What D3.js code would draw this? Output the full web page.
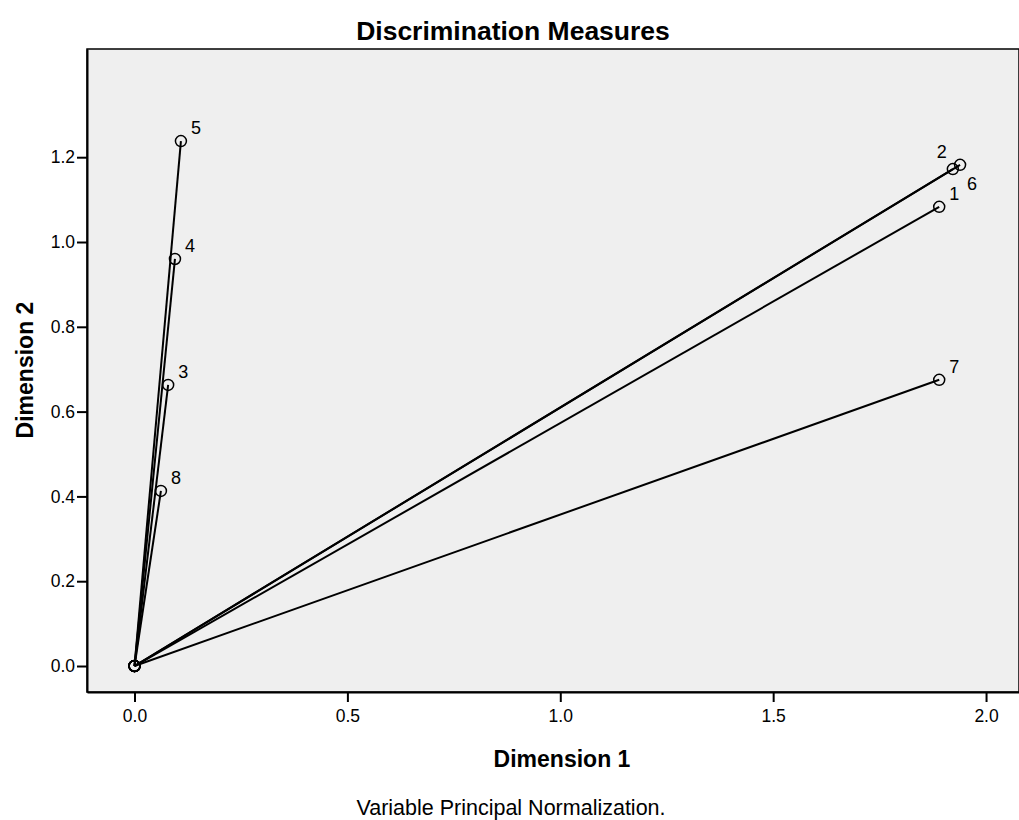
<!DOCTYPE html>
<html>
<head>
<meta charset="utf-8">
<script src="https://cdn.jsdelivr.net/npm/d3@7"></script>
<style>
  body { margin: 0; background: #fff; }
  text { font-family: "Liberation Sans", Arial, sans-serif; }
</style>
</head>
<body>
<div id="chart"></div>
<script>
// Discrimination measures (variables 1..8)
const varLabels = ["1", "2", "3", "4", "5", "6", "7", "8"];
const dim1 = [1.890, 1.922, 0.079, 0.095, 0.109, 1.939, 1.890, 0.062];
const dim2 = [1.083, 1.172, 0.663, 0.960, 1.238, 1.182, 0.675, 0.413];
const xTicks = [0.0, 0.5, 1.0, 1.5, 2.0];
const yTicks = [0.0, 0.2, 0.4, 0.6, 0.8, 1.0, 1.2];

const width = 1019, height = 820;
const plot = { left: 87, right: 1019, top: 49, bottom: 692 };

const svg = d3.select("#chart").append("svg")
  .attr("width", width)
  .attr("height", height);

const x = d3.scaleLinear().domain([-0.1116, 2.0774]).range([plot.left, plot.right]);
const y = d3.scaleLinear().domain([-0.0613, 1.4552]).range([plot.bottom, plot.top]);

// plot background
svg.append("rect")
  .attr("x", plot.left).attr("y", plot.top)
  .attr("width", plot.right - plot.left).attr("height", plot.bottom - plot.top)
  .attr("fill", "#efefef")
  .attr("stroke", "#000").attr("stroke-width", 1.5);

// axes
const xAxis = svg.append("g")
  .attr("transform", `translate(0,${plot.bottom})`)
  .call(d3.axisBottom(x).tickValues(xTicks).tickFormat(d3.format(".1f")).tickSize(10).tickSizeOuter(0));
const yAxis = svg.append("g")
  .attr("transform", `translate(${plot.left},0)`)
  .call(d3.axisLeft(y).tickValues(yTicks).tickFormat(d3.format(".1f")).tickSize(10).tickSizeOuter(0));

[xAxis, yAxis].forEach(g => {
  g.select(".domain").attr("stroke", "#000").attr("stroke-width", 2);
  g.selectAll(".tick line").attr("stroke", "#000").attr("stroke-width", 2);
  g.selectAll(".tick text").attr("fill", "#000").style("font-size", "17.5px");
});
xAxis.selectAll(".tick text").attr("y", 30).attr("dy", 0);
yAxis.selectAll(".tick text").attr("x", -12);

// points data
const pts = varLabels.map((lab, i) => ({ lab, d1: dim1[i], d2: dim2[i] }));

// vectors from origin
svg.append("g").selectAll("line")
  .data(pts)
  .enter().append("line")
  .attr("x1", x(0)).attr("y1", y(0))
  .attr("x2", d => x(d.d1)).attr("y2", d => y(d.d2))
  .attr("stroke", "#000")
  .attr("stroke-width", 2);

// origin markers
svg.append("g").selectAll("circle")
  .data(pts)
  .enter().append("circle")
  .attr("cx", x(0)).attr("cy", y(0)).attr("r", 5.5)
  .attr("fill", "none").attr("stroke", "#000").attr("stroke-width", 1.5);

// end markers
svg.append("g").selectAll("circle")
  .data(pts)
  .enter().append("circle")
  .attr("cx", d => x(d.d1)).attr("cy", d => y(d.d2)).attr("r", 5.5)
  .attr("fill", "none").attr("stroke", "#000").attr("stroke-width", 1.5);

// point labels
const labelOffset = { "2": [-16, -11], "6": [7, 25] };
svg.append("g").selectAll("text")
  .data(pts)
  .enter().append("text")
  .attr("x", d => x(d.d1) + (labelOffset[d.lab] ? labelOffset[d.lab][0] : 10))
  .attr("y", d => y(d.d2) + (labelOffset[d.lab] ? labelOffset[d.lab][1] : -7))
  .style("font-size", "18px")
  .text(d => d.lab);

// titles
svg.append("text")
  .attr("x", 513).attr("y", 40)
  .attr("text-anchor", "middle")
  .style("font-size", "26.5px").style("font-weight", "bold")
  .text("Discrimination Measures");

svg.append("text")
  .attr("x", 562).attr("y", 767)
  .attr("text-anchor", "middle")
  .style("font-size", "23px").style("font-weight", "bold")
  .text("Dimension 1");

svg.append("text")
  .attr("transform", "translate(33,370) rotate(-90)")
  .attr("text-anchor", "middle")
  .style("font-size", "23px").style("font-weight", "bold")
  .text("Dimension 2");

svg.append("text")
  .attr("x", 511).attr("y", 815)
  .attr("text-anchor", "middle")
  .style("font-size", "21.5px")
  .text("Variable Principal Normalization.");
</script>
</body>
</html>
